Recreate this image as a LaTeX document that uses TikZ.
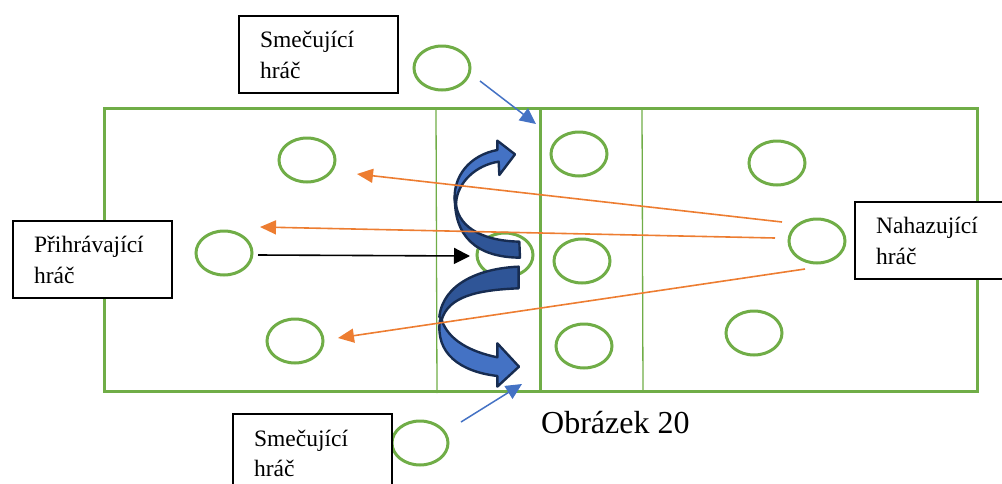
\documentclass[tikz,border=0pt]{standalone}
\usepackage{fontspec}
\setmainfont{Liberation Serif}
\usetikzlibrary{arrows.meta,shapes.geometric}
\definecolor{grn}{HTML}{70AD47}
\definecolor{blu}{HTML}{4472C4}
\definecolor{dkb}{HTML}{2F5597}
\definecolor{edg}{HTML}{172C51}
\definecolor{org}{HTML}{ED7D31}
\tikzset{
  court/.style={draw=grn,line width=3pt},
  zone/.style={draw=grn,line width=1.3pt},
  player/.style={draw=grn,line width=3pt,ellipse,minimum width=56pt,minimum height=44pt,inner sep=0pt},
  label/.style={draw=black,fill=white,line width=2.2pt,rectangle,anchor=north west,font=\fontsize{23.5}{31}\selectfont,align=left,inner ysep=0pt,inner xsep=21pt,text width=117pt,minimum height=77pt},
  serve/.style={draw=org,line width=1.6pt,-{Triangle[length=16pt,width=14pt]}},
  hit/.style={draw=blu,line width=1.5pt,-{Triangle[length=16pt,width=15pt]}},
  pass/.style={draw=black,line width=1.6pt,-{Triangle[length=16pt,width=16pt]}},
  lightband/.style={fill=blu,draw=edg,line width=2.4pt,line join=round},
  darkband/.style={fill=dkb,draw=edg,line width=2.4pt,line join=round}
}
\begin{document}
\begin{tikzpicture}[x=1pt,y=-1pt]
\useasboundingbox (0,0) rectangle (1002,483);
\clip (0,0) rectangle (1002,483);
% court
\draw[court] (104,108) rectangle (540,391);
\draw[court] (540,108) rectangle (977,391);
\draw[zone] (436,108) -- (437,393);
\draw[zone] (642,108) -- (643,391);
% players
\node[player] (p1) at (307,160) {};
\node[player] (p2) at (224,253) {};
\node[player] (p3) at (295,341) {};
\node[player] (p4) at (505,255) {};
\node[player] (p5) at (579,154) {};
\node[player] (p6) at (582,261) {};
\node[player] (p7) at (584,346) {};
\node[player] (p8) at (777,163) {};
\node[player] (p9) at (817,241) {};
\node[player] (p10) at (754,333) {};
\node[player] (p11) at (442,68) {};
\node[player] (p12) at (420,443) {};
% labels
\node[label] (l1) at (238,15) {Smečující\\hráč};
\node[label] (l2) at (12,220) {Přihrávající\\hráč};
\node[label] (l3) at (854,201) {Nahazující\\hráč};
\node[label,minimum height=78pt,font=\fontsize{23.5}{30}\selectfont] (l4) at (232,413) {Smečující\\hráč};
\node[font=\fontsize{32}{38}\selectfont,anchor=west,inner sep=0pt] (cap) at (541,423) {Obrázek 20};
% curved arrows (zoom-crop coordinates)
\begin{scope}[shift={(420,120)},x=0.3333pt,y=-0.3333pt]
  \filldraw[darkband] (108,250) .. controls (112,310) and (170,362) .. (298,365)
     -- (300,413) .. controls (170,412) and (100,350) .. (105,225) -- cycle;
  \filldraw[lightband] (105,250) .. controls (95,170) and (150,105) .. (232,90)
     -- (232,62) -- (285,103) -- (238,165) -- (236,125)
     .. controls (170,135) and (112,185) .. (108,250) -- cycle;
  \filldraw[lightband] (60,600) .. controls (45,700) and (120,755) .. (232,768)
     -- (232,800) -- (297,740) -- (232,670) -- (232,712)
     .. controls (150,695) and (85,660) .. (65,600) -- cycle;
  \filldraw[darkband] (296,440) .. controls (180,445) and (70,490) .. (58,590)
     -- (65,600) .. controls (85,530) and (170,510) .. (296,505) -- cycle;
\end{scope}
% connector ends
\coordinate (h1a) at (480,81);  \coordinate (h1b) at (536,124);
\coordinate (h2a) at (461,422); \coordinate (h2b) at (522,384);
\coordinate (s1a) at (782,222); \coordinate (s1b) at (357,174);
\coordinate (s2a) at (775,238); \coordinate (s2b) at (260,227);
\coordinate (s3a) at (805,269); \coordinate (s3b) at (338,338);
\coordinate (pa) at (258,255);  \coordinate (pb) at (470,256);
\draw[hit] (h1a) -- (h1b);
\draw[hit] (h2a) -- (h2b);
\draw[serve] (s1a) -- (s1b);
\draw[serve] (s2a) -- (s2b);
\draw[serve] (s3a) -- (s3b);
\draw[pass] (pa) -- (pb);
\end{tikzpicture}
\end{document}
